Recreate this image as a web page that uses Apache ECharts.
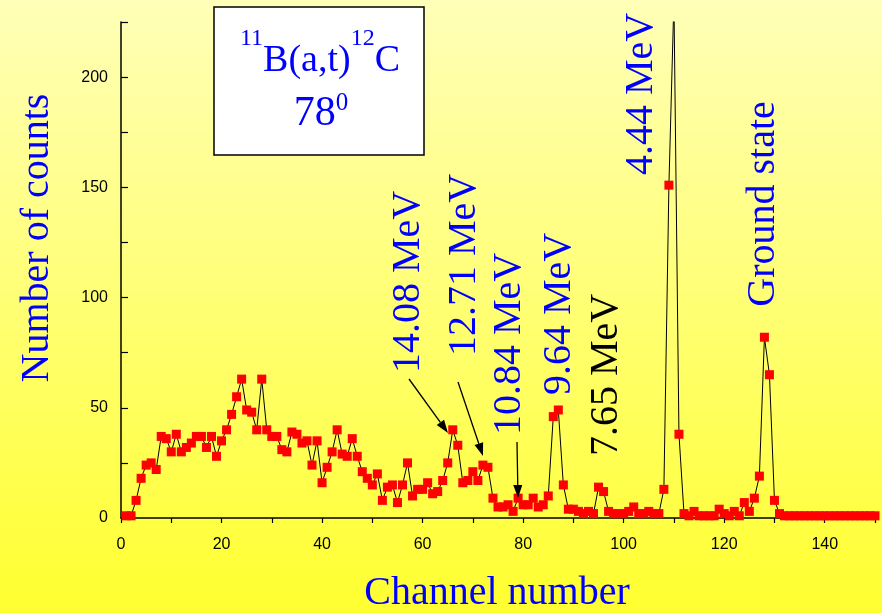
<!DOCTYPE html>
<html><head><meta charset="utf-8">
<script src="https://cdn.jsdelivr.net/npm/echarts@6/dist/echarts.min.js"></script>
<style>html,body{margin:0;padding:0;}#c{width:882px;height:613px;}</style>
</head><body><div id="c"></div>
<script>
// Counts per channel (channel 1 .. 150)
const countsCh1to49 = [1,1,8,18,24,25,22,37,36, 30,38,30,32,34,37,37,32,37,28, 35,40,47,55,63,49,48,40,63,40, 37,37,31,30,39,38,34,35,24,35, 16,23,30,40,29,28,36,28,21,18];
const countsCh50to99 = [15,20,8,14,15,7,15,25,10,13, 13,16,11,12,17,25,40,33,16,17, 21,17,24,23,9,5,5,6,3,9, 6,6,9,5,6,10,46,49,15,4, 4,3,2,3,2,14,12,3,2,2];
const countsCh100to150 = [2,3,5,2,2,3,2,2,13,151, 235,38,2,1,3,1,1,1,1,4, 2,1,3,1,7,3,9,19,82,65, 8,2,1,1,1,1,1,1,1,1, 1,1,1,1,1,1,1,1,1,1, 1];
const firstChannel = 1;
const xTickLabels = ['0','20','40','60','80','100','120','140'];
const yTickLabels = ['0','50','100','150','200'];
const levelLabels = ['4.44 MeV','Ground state','14.08 MeV','12.71 MeV','10.84 MeV','9.64 MeV','7.65 MeV'];
const titleLine1 = [['11','sup'],['B(a,t)','main'],['12','sup'],['C','main']];
const titleLine2 = [['78','main'],['0','sup']];
const xTitle = 'Channel number';
const yTitle = 'Number of counts';

const counts = countsCh1to49.concat(countsCh50to99, countsCh100to150);
const seriesData = counts.map((v, i) => [firstChannel + i, v]);

const SERIF = '"Liberation Serif","Times New Roman",serif';
const SANS = '"Liberation Sans",Arial,sans-serif';
const BLUE = '#0000ff';

const mctx = document.createElement('canvas').getContext('2d');
function measure(text, font) { mctx.font = font; return mctx.measureText(text).width; }

// Build a line of text pieces (main / superscript) centered at cx
function textLine(pieces, cx, mainY, mainSize, supY, supSize) {
  const fonts = {main: mainSize + 'px ' + SERIF, sup: supSize + 'px ' + SERIF};
  const widths = pieces.map(p => measure(p[0], fonts[p[1]]));
  const total = widths.reduce((a, b) => a + b, 0);
  let x = cx - total / 2;
  return pieces.map((p, i) => {
    const el = {type:'text', z:10, x:x, y:(p[1]==='main'?mainY:supY),
      style:{text:p[0], fill:BLUE, font:fonts[p[1]], align:'left', verticalAlign:'middle'}};
    x += widths[i];
    return el;
  });
}

function vText(text, x, y, color) {
  return {type:'text', x:x, y:y, rotation:Math.PI/2, z:10,
    style:{text:text, fill:color||BLUE, font:'40px '+SERIF, align:'center', verticalAlign:'middle'}};
}
function arrow(x1,y1,x2,y2) {
  const L = 13, W = 4.5;
  const dx = x2-x1, dy = y2-y1, d = Math.sqrt(dx*dx+dy*dy);
  const ux = dx/d, uy = dy/d;
  const bx = x2-ux*L, by = y2-uy*L;
  return [
    {type:'line', z:10, shape:{x1:x1,y1:y1,x2:bx,y2:by}, style:{stroke:'#000', lineWidth:1.3}},
    {type:'polygon', z:10, shape:{points:[[x2,y2],[bx-uy*W,by+ux*W],[bx+uy*W,by-ux*W]]}, style:{fill:'#000'}}
  ];
}

const chart = echarts.init(document.getElementById('c'));
chart.setOption({
  animation:false,
  backgroundColor:{type:'linear',x:0,y:0,x2:0,y2:1,colorStops:[{offset:0,color:'#ffffb8'},{offset:1,color:'#ffff30'}]},
  grid:{left:121, top:22, right:7, bottom:95, containLabel:false},
  xAxis:{type:'value', min:0, max:150, interval:10,
    axisLine:{show:true, onZero:false, lineStyle:{color:'#000', width:1.5}},
    axisTick:{show:true, inside:false, length:5, lineStyle:{color:'#000', width:1.2}},
    axisLabel:{margin:19, color:'#000', fontSize:16, fontFamily:SANS,
      formatter:v => xTickLabels.indexOf(String(v)) >= 0 ? String(v) : ''},
    splitLine:{show:false}},
  yAxis:{type:'value', min:0, max:225, interval:25,
    axisLine:{show:true, onZero:false, lineStyle:{color:'#000', width:1.5}},
    axisTick:{show:true, inside:true, length:7, lineStyle:{color:'#000', width:1.2}},
    axisLabel:{margin:13, color:'#000', fontSize:16, fontFamily:SANS,
      formatter:v => yTickLabels.indexOf(String(v)) >= 0 ? String(v) : ''},
    splitLine:{show:false}},
  series:[{type:'line', data:seriesData, clip:true,
    symbol:'rect', symbolSize:9, showAllSymbol:true,
    itemStyle:{color:'#ff0000'},
    lineStyle:{color:'#000', width:1}}],
  graphic:[
    {type:'rect', z:5, shape:{x:214,y:7,width:210,height:148}, style:{fill:'#ffffff', stroke:'#000', lineWidth:1.5}},
    ...textLine(titleLine1, 320, 61, 38, 39, 24),
    ...textLine(titleLine2, 321, 114, 42, 103, 25),
    vText(levelLabels[0], 641, 94),
    vText(levelLabels[1], 763, 204),
    vText(levelLabels[2], 408, 282),
    vText(levelLabels[3], 464, 265),
    vText(levelLabels[4], 509, 344),
    vText(levelLabels[5], 559, 314),
    vText(levelLabels[6], 606, 375, '#000'),
    ...arrow(409,379,448,433),
    ...arrow(458,382,483,456),
    ...arrow(517,442,518,498),
    {type:'text', x:37, y:238, rotation:Math.PI/2, style:{text:yTitle, fill:BLUE, font:'40px '+SERIF, align:'center', verticalAlign:'middle'}},
    {type:'text', x:497, y:593, style:{text:xTitle, fill:BLUE, font:'40px '+SERIF, align:'center', verticalAlign:'middle'}}
  ]
});
</script>
</body></html>
